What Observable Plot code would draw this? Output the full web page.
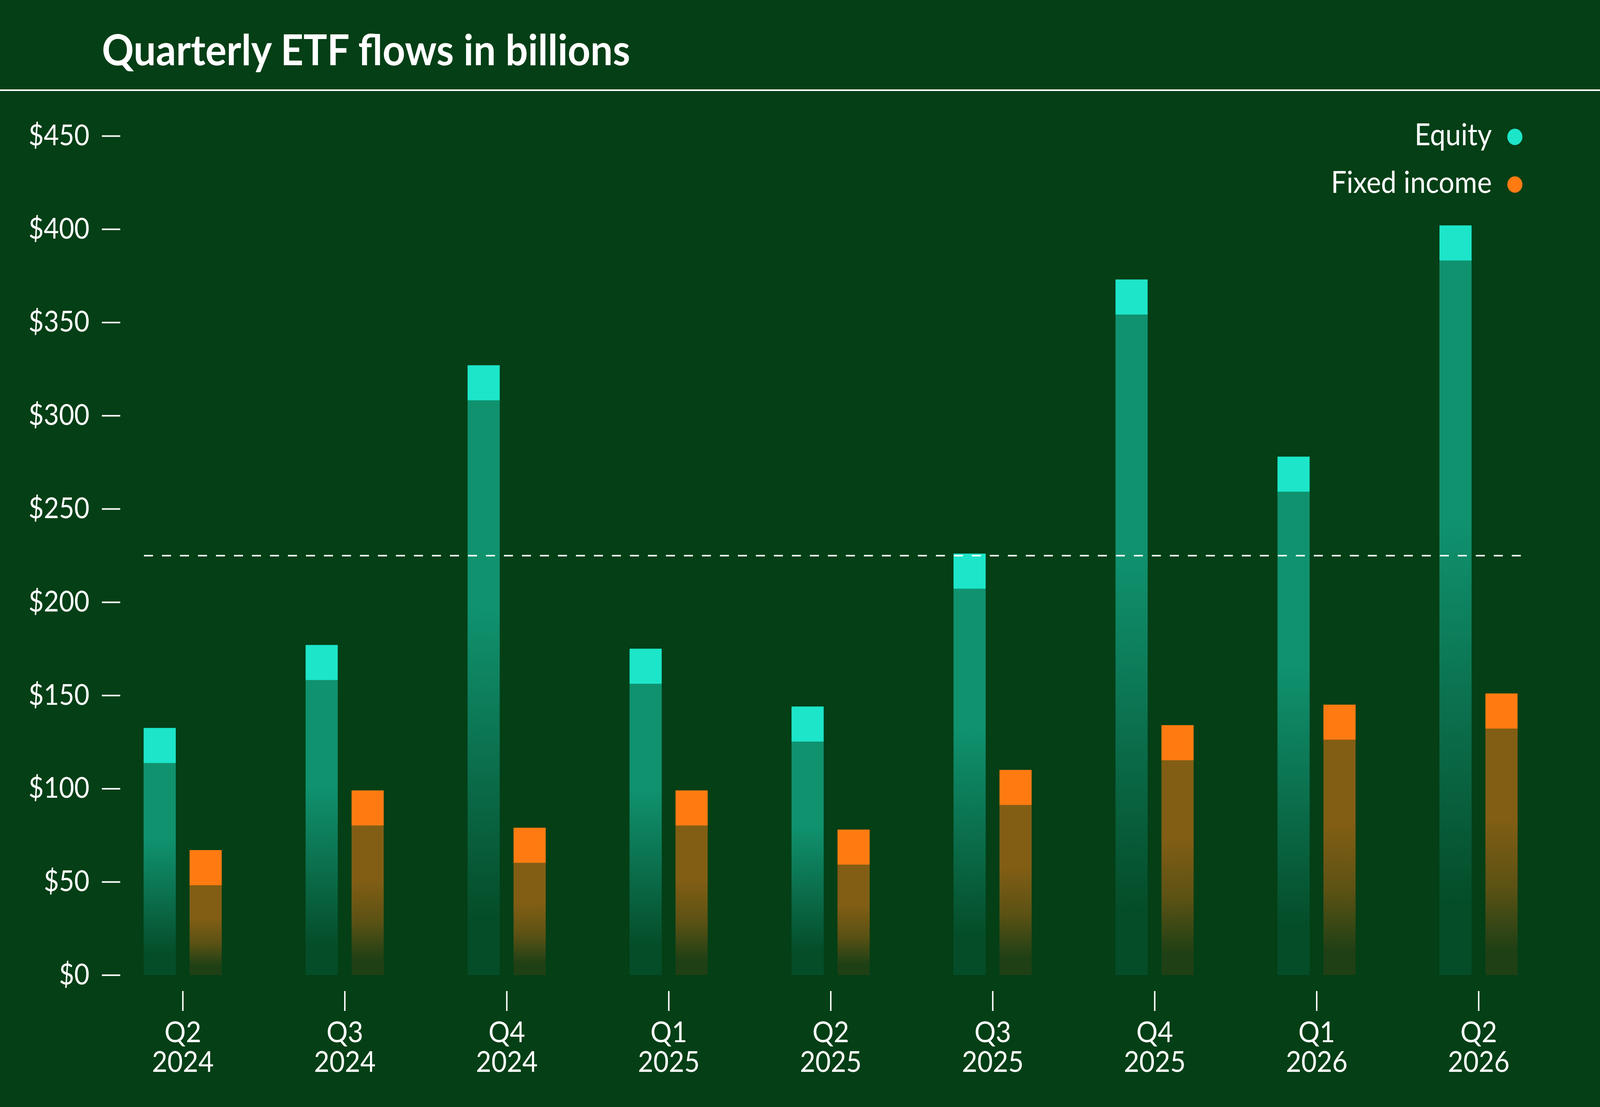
<!DOCTYPE html>
<html><head><meta charset="utf-8">
<script src="https://cdn.jsdelivr.net/npm/d3@7"></script>
<script src="https://cdn.jsdelivr.net/npm/@observablehq/plot@0.6"></script>
<style>
html,body{margin:0;padding:0;background:#043f16;overflow:hidden;}
#wrap{position:absolute;left:0;top:0;width:4445px;height:2835px;overflow:hidden;background:#043f16;transform-origin:0 0;}
#title{position:absolute;left:283px;top:69px;margin:0;font:700 110px/1 Lato, sans-serif;color:#fff;white-space:nowrap;}
#rule{position:absolute;left:0;top:229px;width:4445px;height:4px;background:#fff;}
#chart{position:absolute;left:0;top:232px;width:4445px;height:2603px;}
</style></head>
<body><div id="wrap"><div id="title">Quarterly ETF flows in billions</div><div id="rule"></div><div id="chart"></div></div>
<script>
const quarters = ["Q2 2024","Q3 2024","Q4 2024","Q1 2025","Q2 2025","Q3 2025","Q4 2025","Q1 2026","Q2 2026"];
const equity = [132.5, 177, 327, 175, 144, 226, 373, 278, 402];
const fixedIncome = [67, 99, 79, 99, 78, 110, 134, 145, 151];
const yTicks = [0, 50, 100, 150, 200, 250, 300, 350, 400, 450];
const referenceValue = [225];
const seriesNames = ["Equity", "Fixed income"];
const seriesColors = ["#1de5c9", "#ff7b12"];

const rows = quarters.map((q, i) => ({quarter: q, equity: equity[i], fixed: fixedIncome[i]}));

const BAR_INSET = 127.7;
const CAP = 90;

const legendMarks = seriesNames.flatMap((name, i) => [
  Plot.dot([name], {frameAnchor: "top-right", dx: -11, dy: 2 + i * 122, r: 21, fill: seriesColors[i], stroke: null}),
  Plot.text([name], {frameAnchor: "top-right", dx: -75, dy: -1.6 + i * 122, text: d => d, textAnchor: "end", lineAnchor: "middle", fill: "white", fontSize: 77})
]);

const svg = Plot.plot({
  width: 4445,
  height: 2603,
  marginTop: 116,
  marginLeft: 396,
  marginRight: 226,
  marginBottom: 297,
  style: {background: "transparent", color: "white", fontFamily: "Lato, sans-serif", fontSize: "74px", maxWidth: "none"},
  x: {type: "band", domain: quarters, paddingInner: 0.518, paddingOuter: 0, label: null},
  y: {domain: [0, 450], insetBottom: 41, label: null},
  marks: [
    Plot.barY(rows, {x: "quarter", y: "equity", fill: "url(#gradEq)", insetRight: BAR_INSET, insetTop: CAP}),
    Plot.barY(rows, {x: "quarter", y: "fixed", fill: "url(#gradFi)", insetLeft: BAR_INSET, insetTop: CAP}),
    Plot.barY(rows, {x: "quarter", y1: "equity", y2: "equity", fill: seriesColors[0], insetRight: BAR_INSET, insetBottom: -CAP}),
    Plot.barY(rows, {x: "quarter", y1: "fixed", y2: "fixed", fill: seriesColors[1], insetLeft: BAR_INSET, insetBottom: -CAP}),
    Plot.ruleY(referenceValue, {stroke: "white", strokeWidth: 4, strokeDasharray: "25,25", insetLeft: 4, insetRight: -7}),
    Plot.axisY(yTicks, {tickFormat: d => "$" + d, tickSize: 51, tickPadding: 35, dx: -62, strokeWidth: 4, fontSize: 73}),
    Plot.axisX({tickSize: 51, tickPadding: 26, tickFormat: d => d.replace(" ", "\n"), strokeWidth: 4, fontSize: 74, lineHeight: 1.027}),
    ...legendMarks
  ]
});

const defs = d3.select(svg).insert("defs", ":first-child");
function grad(id, top, mid, bottom) {
  const g = defs.append("linearGradient").attr("id", id).attr("x1", 0).attr("y1", 0).attr("x2", 0).attr("y2", 1);
  g.append("stop").attr("offset", "0").attr("stop-color", top);
  g.append("stop").attr("offset", "0.36").attr("stop-color", top);
  g.append("stop").attr("offset", "0.64").attr("stop-color", mid);
  g.append("stop").attr("offset", "0.9").attr("stop-color", bottom);
  g.append("stop").attr("offset", "1").attr("stop-color", bottom);
}
grad("gradEq", "#10926f", "#0b6e4c", "#054d29");
grad("gradFi", "#825e14", "#5c5214", "#1f4015");

document.getElementById("chart").appendChild(svg);

function fit() {
  const sx = window.innerWidth / 4445, sy = window.innerHeight / 2835;
  document.getElementById("wrap").style.transform = `scale(${sx}, ${sy})`;
}
fit();
window.addEventListener("resize", fit);
</script>
</body></html>
